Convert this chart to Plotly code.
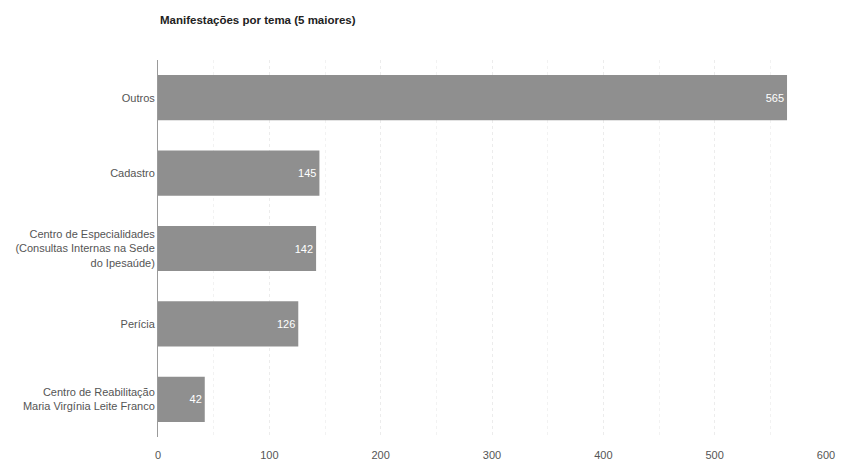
import plotly.graph_objects as go

categories = [
    "Outros",
    "Cadastro",
    "Centro de Especialidades<br>(Consultas Internas na Sede<br>do Ipesaúde)",
    "Perícia",
    "Centro de Reabilitação<br>Maria Virgínia Leite Franco",
]
values = [565, 145, 142, 126, 42]
x_ticks = [0, 100, 200, 300, 400, 500, 600]

FONT = "Liberation Sans, Arial, sans-serif"

fig = go.Figure(
    go.Bar(
        x=values,
        y=categories,
        orientation="h",
        marker=dict(color="#8f8f8f", line=dict(width=0)),
        width=0.6,
        text=[str(v) for v in values],
        textposition="inside",
        insidetextanchor="end",
        textfont=dict(color="white", size=11, family=FONT),
        hoverinfo="skip",
    )
)

fig.update_layout(
    width=841,
    height=462,
    margin=dict(l=158, r=15, t=60, b=25),
    paper_bgcolor="white",
    plot_bgcolor="white",
    showlegend=False,
    font=dict(family=FONT, size=11, color="#555555"),
    title=dict(
        text="<b>Manifestações por tema (5 maiores)</b>",
        x=160 / 841,
        xanchor="left",
        y=1 - 20 / 462,
        yanchor="middle",
        font=dict(size=11.5, color="#222222", family=FONT),
    ),
)

fig.update_xaxes(
    range=[0, 600],
    tickvals=x_ticks,
    ticktext=[str(t) for t in x_ticks],
    showgrid=True,
    gridcolor="#ececec",
    griddash="dot",
    gridwidth=1,
    zeroline=False,
    showline=False,
    ticks="",
    ticklabelstandoff=10,
    automargin=False,
    tickfont=dict(size=11, color="#555555"),
    minor=dict(dtick=50, showgrid=True, gridcolor="#f2f2f2", griddash="dot"),
)

fig.update_yaxes(
    categoryorder="array",
    categoryarray=categories[::-1],
    range=[-0.5, 4.5],
    showline=True,
    linecolor="#9a9a9a",
    linewidth=1,
    ticks="",
    showgrid=False,
    automargin=False,
    tickfont=dict(size=11, color="#555555"),
)

fig.write_html(
    "out.html",
    config={"displayModeBar": False},
    post_script="document.body.style.margin='0';document.body.style.overflow='hidden';",
)
